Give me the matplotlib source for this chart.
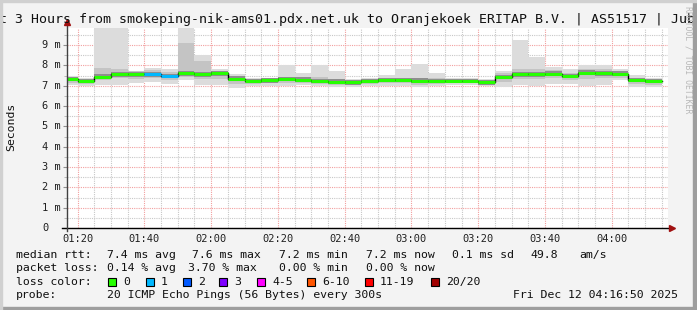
import matplotlib
matplotlib.use("Agg")
import matplotlib.pyplot as plt
import matplotlib.dates as mdates
from matplotlib.patches import Rectangle
from matplotlib.ticker import MultipleLocator
import pandas as pd

plt.rcParams['font.family'] = ['DejaVu Sans Mono']

W, H = 697, 310

# 5 minute bins, the first one is cut by the left edge of the graph
bin_start = pd.date_range('2025-12-12 01:15', '2025-12-12 04:10', freq='5min')
t_from = pd.Timestamp('2025-12-12 01:16:50')
t_to = pd.Timestamp('2025-12-12 04:16:50')

# median rtt in ms per bin
median_ms = [7.33, 7.23, 7.44, 7.57, 7.57, 7.57, 7.48, 7.61, 7.56, 7.61,
             7.35, 7.23, 7.26, 7.33, 7.30, 7.23, 7.20, 7.18, 7.23, 7.28,
             7.28, 7.25, 7.23, 7.23, 7.23, 7.16, 7.43, 7.57, 7.56, 7.59,
             7.48, 7.64, 7.61, 7.59, 7.28, 7.23]
# lost pings (of 20) per bin
loss = [0, 0, 0, 0, 0, 1, 1, 0, 0, 0,
        0, 0, 0, 0, 0, 0, 0, 0, 0, 0,
        0, 0, 0, 0, 0, 0, 0, 0, 0, 0,
        0, 0, 0, 0, 0, 0]
# smoke: min / max of the pings
smoke_lo = [7.02, 6.98, 7.05, 7.02, 7.13, 7.20, 7.10, 7.30, 7.02, 7.05,
            6.87, 7.00, 7.00, 7.00, 7.05, 7.00, 6.92, 6.95, 6.98, 7.00,
            7.00, 6.95, 7.00, 7.02, 7.02, 7.00, 6.95, 7.05, 7.00, 7.10,
            7.10, 6.98, 7.05, 7.28, 6.95, 6.95]
smoke_hi = [7.50, 7.37, 10.5, 10.5, 7.74, 7.85, 7.80, 10.5, 8.51, 7.80,
            7.56, 7.37, 7.40, 8.02, 7.64, 8.02, 7.72, 7.35, 7.40, 7.53,
            7.82, 8.07, 7.64, 7.40, 7.40, 7.35, 7.72, 9.25, 8.43, 7.94,
            7.82, 8.02, 8.02, 7.82, 7.53, 7.40]
# smoke: inner band of the pings
band_lo = [7.12, 7.08, 7.30, 7.40, 7.35, 7.40, 7.28, 7.45, 7.35, 7.35,
           7.10, 7.10, 7.12, 7.15, 7.15, 7.10, 7.05, 7.05, 7.10, 7.12,
           7.12, 7.05, 7.10, 7.12, 7.12, 7.08, 7.20, 7.35, 7.35, 7.40,
           7.30, 7.35, 7.40, 7.40, 7.10, 7.05]
band_hi = [7.42, 7.30, 7.85, 7.80, 7.70, 7.75, 7.68, 9.08, 8.23, 7.70,
           7.45, 7.32, 7.33, 7.45, 7.40, 7.42, 7.35, 7.28, 7.32, 7.38,
           7.40, 7.38, 7.38, 7.32, 7.32, 7.26, 7.62, 7.80, 7.80, 7.75,
           7.62, 7.82, 7.80, 7.70, 7.40, 7.32]

loss_colors = {0: '#26ff00', 1: '#00b8ff', 2: '#0059ff', 3: '#7e00ff',
               5: '#ff00ff', 10: '#ff5500', 19: '#ff0000', 20: '#a00000'}
loss_labels = ['0', '1', '2', '3', '4-5', '6-10', '11-19', '20/20']
y_ticks = [0, 1, 2, 3, 4, 5, 6, 7, 8, 9]


def loss_color(n):
    for k in sorted(loss_colors):
        if n <= k:
            return loss_colors[k]
    return loss_colors[20]


fig = plt.figure(figsize=(W / 100, H / 100), dpi=100, facecolor='#f3f3f3')

# 3d-ish frame around the picture
fig.patches.append(Rectangle((0, 0), 1, 3 / H, transform=fig.transFigure, color='#9e9e9e', zorder=5))
fig.patches.append(Rectangle((1 - 4 / W, 0), 4 / W, 1, transform=fig.transFigure, color='#9e9e9e', zorder=5))
fig.patches.append(Rectangle((0, 1 - 2 / H), 1, 2 / H, transform=fig.transFigure, color='#d0d0d0', zorder=5))
fig.patches.append(Rectangle((0, 0), 2 / W, 1, transform=fig.transFigure, color='#d0d0d0', zorder=5))

ax = fig.add_axes([67 / W, (H - 228) / H, 601 / W, 200 / H])
ax.set_facecolor('white')

width = pd.Timedelta(minutes=5)
bw = width / pd.Timedelta(days=1)
lo = pd.Series(smoke_lo)
hi = pd.Series(smoke_hi)
blo = pd.Series(band_lo)
bhi = pd.Series(band_hi)
med = pd.Series(median_ms)

# smoke
ax.bar(bin_start, hi - lo, bottom=lo, width=bw, align='edge', color='#dcdcdc', linewidth=0, zorder=2)
ax.bar(bin_start, bhi - blo, bottom=blo, width=bw, align='edge', color='#c4c4c4', linewidth=0, zorder=2)
ax.bar(bin_start, 0.24, bottom=med - 0.12, width=bw, align='edge', color='#8e8e8e', linewidth=0, zorder=2)
ax.bar(bin_start, 0.1, bottom=med - 0.05, width=bw, align='edge', color='#5a5a5a', linewidth=0, zorder=2)

# median line coloured by loss
edges = list(bin_start) + [bin_start[-1] + width]
ax.step(edges, median_ms + [median_ms[-1]], where='post', color='black', lw=1, zorder=3)
for s, m, l in zip(bin_start, median_ms, loss):
    ax.hlines(m, s, s + width, color=loss_color(l), lw=2.2, zorder=4)

ax.set_xlim(t_from, t_to)
ax.set_ylim(0, 9.84)

ax.xaxis.set_major_locator(mdates.MinuteLocator(byminute=[0, 20, 40]))
ax.xaxis.set_minor_locator(mdates.MinuteLocator(byminute=range(0, 60, 5)))
ax.xaxis.set_major_formatter(mdates.DateFormatter('%H:%M'))
ax.set_yticks(y_ticks)
ax.yaxis.set_minor_locator(MultipleLocator(0.5))
ax.set_axisbelow(True)
ax.grid(which='major', color='#f2a0a0', linestyle=(0, (1, 1)), lw=0.8)
ax.grid(which='minor', color='#c8c8c8', linestyle=(0, (1, 1)), lw=0.8)

ax.tick_params(axis='x', which='both', length=0, pad=4, labelsize=7.5, labelcolor='#202020')
ax.tick_params(axis='y', which='major', length=3, color='#909090', labelleft=False)
ax.tick_params(axis='y', which='minor', length=2, color='#b0b0b0')
for sp in ax.spines.values():
    sp.set_visible(False)

for v in y_ticks:
    lab = '0' if v == 0 else '%d m' % v
    ax.text(-25 / 601, v, lab, transform=ax.get_yaxis_transform(), ha='left', va='center',
            fontsize=7.5, color='#202020')

# axis lines with arrows
ax.plot([-5 / 601, 1.004], [0, 0], transform=ax.transAxes, color='black', lw=1, clip_on=False, zorder=6)
ax.plot([0, 0], [-3 / 200, 1.025], transform=ax.transAxes, color='#404040', lw=1, clip_on=False, zorder=6)
ax.plot([1.006], [0], marker='>', ms=4.5, color='#a01010', transform=ax.transAxes, clip_on=False, zorder=7)
ax.plot([0], [1.03], marker='^', ms=4.5, color='#a01010', transform=ax.transAxes, clip_on=False, zorder=7)


def ftext(x, y, s, **kw):
    kw.setdefault('fontsize', 8.25)
    kw.setdefault('color', '#101010')
    fig.text(x / W, 1 - y / H, s, va='center', ha=kw.pop('ha', 'left'), **kw)


ftext(-25, 19, 'Last 3 Hours from smokeping-nik-ams01.pdx.net.uk to Oranjekoek ERITAP B.V. | AS51517 | Jubbega',
      fontsize=9.5)
ftext(11, 127, 'Seconds', rotation=90, ha='center')
ftext(688, 60, 'RRDTOOL / TOBI OETIKER', rotation=270, ha='center', fontsize=5.9, color='#b8b8b8')

r1 = 255
ftext(16, r1, 'median rtt:')
ftext(107, r1, '7.4 ms avg')
ftext(192, r1, '7.6 ms max')
ftext(279, r1, '7.2 ms min')
ftext(366, r1, '7.2 ms now')
ftext(452, r1, '0.1 ms sd')
ftext(530, r1, '49.8')
ftext(579, r1, 'am/s')

r2 = 268
ftext(16, r2, 'packet loss:')
ftext(107, r2, '0.14 % avg')
ftext(188, r2, '3.70 % max')
ftext(279, r2, '0.00 % min')
ftext(366, r2, '0.00 % now')

r3 = 282
ftext(16, r3, 'loss color:')
sw_x = [108, 146, 183, 219, 257, 307, 365, 431]
for x, lab, c in zip(sw_x, loss_labels, [loss_colors[k] for k in sorted(loss_colors)]):
    fig.patches.append(Rectangle((x / W, 1 - (r3 + 4) / H), 8 / W, 8 / H, transform=fig.transFigure,
                                 facecolor=c, edgecolor='black', lw=0.8))
    ftext(x + 15, r3, lab)

r4 = 295
ftext(16, r4, 'probe:')
ftext(107, r4, '20 ICMP Echo Pings (56 Bytes) every 300s')
ftext(513, r4, 'Fri Dec 12 04:16:50 2025')

fig.savefig('out.png', dpi=100, facecolor=fig.get_facecolor())
